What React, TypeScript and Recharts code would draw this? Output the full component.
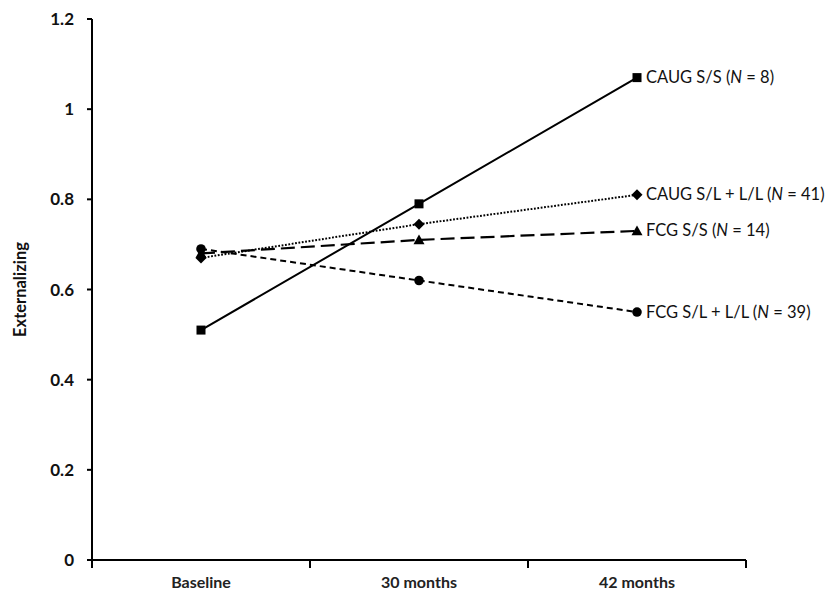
import React from "react";
import { LineChart, Line, XAxis, YAxis, LabelList } from "recharts";

const timepoints = ["Baseline", "30 months", "42 months"];
const caugSS = [0.51, 0.79, 1.07];
const caugSLLL = [0.67, 0.745, 0.81];
const fcgSS = [0.68, 0.71, 0.73];
const fcgSLLL = [0.69, 0.62, 0.55];
const yTicks = [0, 0.2, 0.4, 0.6, 0.8, 1, 1.2];
const groupNames = ["CAUG S/S", "CAUG S/L + L/L", "FCG S/S", "FCG S/L + L/L"];
const groupNs = ["8", "41", "14", "39"];
const yAxisTitle = "Externalizing";

const data = timepoints.map((t, i) => ({
  t,
  caugSS: caugSS[i],
  caugSLLL: caugSLLL[i],
  fcgSS: fcgSS[i],
  fcgSLLL: fcgSLLL[i],
}));

const W = 832;
const H = 592;
const M = { top: 11, right: 94, left: 24, bottom: 10 };
const Y_W = 60;
const PLOT_W = W - M.left - M.right - Y_W;
const BAND = PLOT_W / timepoints.length;
const FONT = "Lato, 'Open Sans', sans-serif";

const Square = (p: any) => {
  if (p.cx == null || p.cy == null) return <g key={p.key} />;
  return <rect key={p.key} x={p.cx - 4.5} y={p.cy - 4.5} width={9} height={9} fill="#000" />;
};
const Diamond = (p: any) => {
  if (p.cx == null || p.cy == null) return <g key={p.key} />;
  const r = 5.5;
  return (
    <path
      key={p.key}
      d={`M${p.cx},${p.cy - r}L${p.cx + r},${p.cy}L${p.cx},${p.cy + r}L${p.cx - r},${p.cy}Z`}
      fill="#000"
    />
  );
};
const Triangle = (p: any) => {
  if (p.cx == null || p.cy == null) return <g key={p.key} />;
  const r = 5.5;
  return (
    <path
      key={p.key}
      d={`M${p.cx},${p.cy - r}L${p.cx + r},${p.cy + r * 0.8}L${p.cx - r},${p.cy + r * 0.8}Z`}
      fill="#000"
    />
  );
};
const Circle = (p: any) => {
  if (p.cx == null || p.cy == null) return <g key={p.key} />;
  return <circle key={p.key} cx={p.cx} cy={p.cy} r={4.8} fill="#000" />;
};

const makeEndLabel = (gi: number) => (p: any) => {
  if (p.index !== timepoints.length - 1) return null;
  return (
    <text
      x={Number(p.x) + 9}
      y={Number(p.y) + 5.5}
      fontFamily={FONT}
      fontSize={16.5}
      fill="#111"
    >
      {groupNames[gi]} (<tspan fontStyle="italic">N</tspan> = {groupNs[gi]})
    </text>
  );
};

const XTick = (p: any) => {
  const { x, y, index, payload } = p;
  const half = BAND / 2;
  return (
    <g>
      <line x1={x - half} x2={x - half} y1={y} y2={y + 8} stroke="#000" strokeWidth={2} />
      {index === timepoints.length - 1 && (
        <line x1={x + half} x2={x + half} y1={y} y2={y + 8} stroke="#000" strokeWidth={2} />
      )}
      <text
        x={x}
        y={y + 28}
        textAnchor="middle"
        fontFamily={FONT}
        fontWeight={700}
        fontSize={16}
        fill="#222"
      >
        {payload.value}
      </text>
    </g>
  );
};

const YTitle = (p: any) => {
  const vb = p.viewBox || {};
  const cx = vb.x - 12;
  const cy = vb.y + vb.height / 2;
  return (
    <text
      x={cx}
      y={cy}
      transform={`rotate(-90, ${cx}, ${cy})`}
      textAnchor="middle"
      dominantBaseline="central"
      fontFamily={FONT}
      fontWeight={700}
      fontSize={16.5}
      fill="#111"
    >
      {yAxisTitle}
    </text>
  );
};

export default function App() {
  return (
    <div style={{ width: W, height: H, background: "#fff" }}>
      <LineChart width={W} height={H} data={data} margin={M}>
        <XAxis
          dataKey="t"
          type="category"
          scale="band"
          tick={<XTick />}
          tickLine={false}
          tickSize={0}
          tickMargin={0}
          height={30}
          interval={0}
          axisLine={{ stroke: "#000", strokeWidth: 2 }}
        />
        <YAxis
          domain={[0, 1.2]}
          ticks={yTicks}
          width={Y_W}
          tickSize={5}
          tickMargin={13}
          tickFormatter={(v: number) => String(v)}
          tickLine={{ stroke: "#000", strokeWidth: 2 }}
          axisLine={{ stroke: "#000", strokeWidth: 2 }}
          tick={{ fontFamily: FONT, fontWeight: 700, fontSize: 17, fill: "#111" }}
          label={{ content: <YTitle /> }}
        />
        <Line
          dataKey="caugSS"
          stroke="#000"
          strokeWidth={2}
          dot={Square}
          activeDot={false}
          isAnimationActive={false}
        >
          <LabelList dataKey="caugSS" content={makeEndLabel(0)} />
        </Line>
        <Line
          dataKey="caugSLLL"
          stroke="#000"
          strokeWidth={2}
          strokeDasharray="1.8 1.6"
          dot={Diamond}
          activeDot={false}
          isAnimationActive={false}
        >
          <LabelList dataKey="caugSLLL" content={makeEndLabel(1)} />
        </Line>
        <Line
          dataKey="fcgSS"
          stroke="#000"
          strokeWidth={2.2}
          strokeDasharray="14 6"
          dot={Triangle}
          activeDot={false}
          isAnimationActive={false}
        >
          <LabelList dataKey="fcgSS" content={makeEndLabel(2)} />
        </Line>
        <Line
          dataKey="fcgSLLL"
          stroke="#000"
          strokeWidth={2}
          strokeDasharray="6 4"
          dot={Circle}
          activeDot={false}
          isAnimationActive={false}
        >
          <LabelList dataKey="fcgSLLL" content={makeEndLabel(3)} />
        </Line>
      </LineChart>
    </div>
  );
}
